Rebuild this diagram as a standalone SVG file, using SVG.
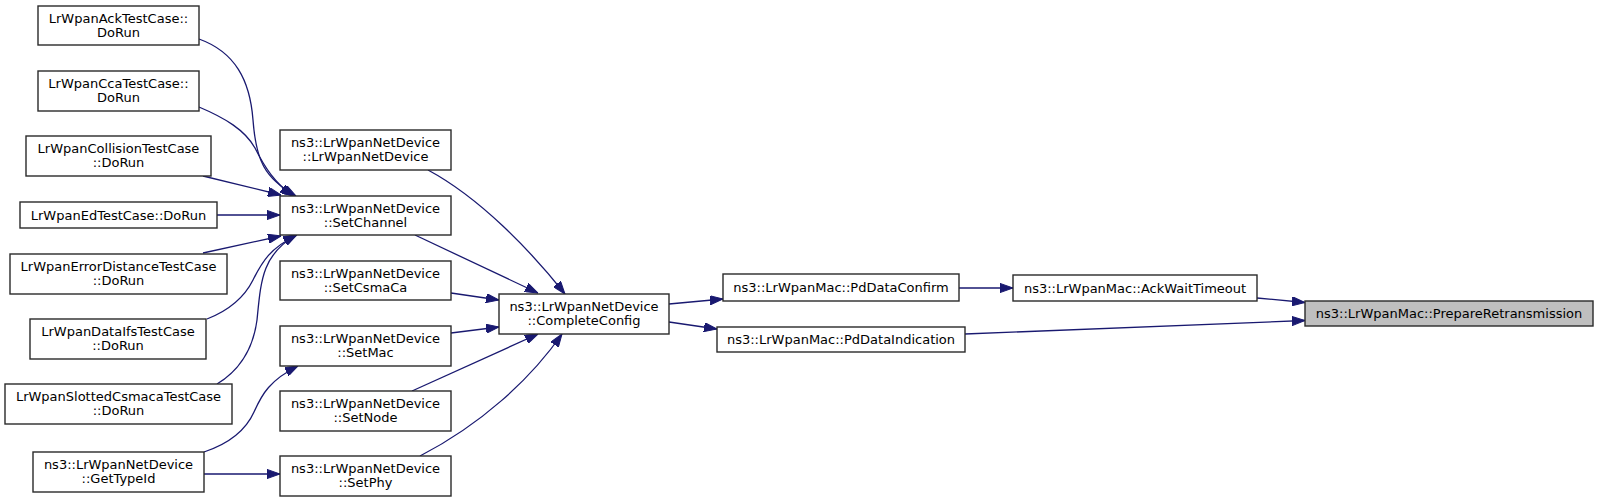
<svg xmlns="http://www.w3.org/2000/svg" width="1599" height="503" viewBox="0 0 1599 503">
<style>
.n rect{fill:#ffffff;stroke:#2a2a2a;stroke-width:1.4}
.n.h rect{fill:#bfbfbf}
.n text{font-family:"DejaVu Sans",Verdana,sans-serif;font-size:13px;fill:#000;text-anchor:middle}
.e path{fill:none;stroke:#191970;stroke-width:1.3;marker-end:url(#ah)}
</style>
<defs>
<marker id="ah" markerUnits="userSpaceOnUse" viewBox="0 0 13 9.2" refX="13" refY="4.6" markerWidth="13" markerHeight="9.2" orient="auto">
<path d="M0,0 L13,4.6 L0,9.2 z" fill="#191970" stroke="#191970" stroke-width="1"/>
</marker>
</defs>
<rect width="1599" height="503" fill="#ffffff"/>
<g id="edges" class="e">
<path d="M199,39 C235,52 250,80 253,120 C256,160 264,178 296,196"/>
<path d="M199,107 C225,118 245,130 255,148 C265,168 275,183 293,196"/>
<path d="M203,176 L281,195"/>
<path d="M217,215 L280,215"/>
<path d="M203,253 L281,236"/>
<path d="M207,319 C230,310 245,296 253,280 C262,262 270,248 297,235"/>
<path d="M217,384 C240,370 253,350 257,320 C261,280 262,255 296,235"/>
<path d="M204,452 C225,445 245,432 254,412 C262,394 270,380 298,366"/>
<path d="M204,474 L280,474"/>
<path d="M428,170 C480,198 530,250 565,294"/>
<path d="M415,235 L538,293"/>
<path d="M451,293 L499,300"/>
<path d="M451,333 L499,327"/>
<path d="M412,391 L538,334"/>
<path d="M420,456 C480,425 530,380 562,334"/>
<path d="M669,304 L723,299"/>
<path d="M669,322 L717,329"/>
<path d="M959,288 L1013,288"/>
<path d="M1257,298 L1305,302.5"/>
<path d="M965,334 L1305,320.5"/>
</g>
<g id="n_ack" class="n"><rect x="38" y="6" width="161" height="39"/><text x="118.5" y="22.5">LrWpanAckTestCase::</text><text x="118.5" y="37">DoRun</text></g>
<g id="n_cca" class="n"><rect x="38" y="71" width="161" height="40"/><text x="118.5" y="87.5">LrWpanCcaTestCase::</text><text x="118.5" y="102">DoRun</text></g>
<g id="n_coll" class="n"><rect x="26" y="136" width="185" height="40"/><text x="118.5" y="152.5">LrWpanCollisionTestCase</text><text x="118.5" y="167">::DoRun</text></g>
<g id="n_ed" class="n"><rect x="20" y="202" width="197" height="26"/><text x="118.5" y="219.5">LrWpanEdTestCase::DoRun</text></g>
<g id="n_err" class="n"><rect x="10" y="254" width="217" height="40"/><text x="118.5" y="270.5">LrWpanErrorDistanceTestCase</text><text x="118.5" y="285">::DoRun</text></g>
<g id="n_ifs" class="n"><rect x="30" y="319" width="176" height="40"/><text x="118" y="335.5">LrWpanDataIfsTestCase</text><text x="118" y="350">::DoRun</text></g>
<g id="n_slot" class="n"><rect x="5" y="384" width="227" height="40"/><text x="118.5" y="400.5">LrWpanSlottedCsmacaTestCase</text><text x="118.5" y="415">::DoRun</text></g>
<g id="n_gettype" class="n"><rect x="33" y="452" width="171" height="40"/><text x="118.5" y="468.5">ns3::LrWpanNetDevice</text><text x="118.5" y="483">::GetTypeId</text></g>
<g id="n_ctor" class="n"><rect x="280" y="130" width="171" height="40"/><text x="365.5" y="146.5">ns3::LrWpanNetDevice</text><text x="365.5" y="161">::LrWpanNetDevice</text></g>
<g id="n_setchannel" class="n"><rect x="280" y="196" width="171" height="39"/><text x="365.5" y="212.5">ns3::LrWpanNetDevice</text><text x="365.5" y="227">::SetChannel</text></g>
<g id="n_setcsma" class="n"><rect x="280" y="261" width="171" height="39"/><text x="365.5" y="277.5">ns3::LrWpanNetDevice</text><text x="365.5" y="292">::SetCsmaCa</text></g>
<g id="n_setmac" class="n"><rect x="280" y="326" width="171" height="40"/><text x="365.5" y="342.5">ns3::LrWpanNetDevice</text><text x="365.5" y="357">::SetMac</text></g>
<g id="n_setnode" class="n"><rect x="280" y="391" width="171" height="40"/><text x="365.5" y="407.5">ns3::LrWpanNetDevice</text><text x="365.5" y="422">::SetNode</text></g>
<g id="n_setphy" class="n"><rect x="280" y="456" width="171" height="40"/><text x="365.5" y="472.5">ns3::LrWpanNetDevice</text><text x="365.5" y="487">::SetPhy</text></g>
<g id="n_complete" class="n"><rect x="499" y="294" width="170" height="40"/><text x="584" y="310.5">ns3::LrWpanNetDevice</text><text x="584" y="325">::CompleteConfig</text></g>
<g id="n_pdconfirm" class="n"><rect x="723" y="274" width="236" height="27"/><text x="841" y="292">ns3::LrWpanMac::PdDataConfirm</text></g>
<g id="n_pdind" class="n"><rect x="717" y="327" width="248" height="25"/><text x="841" y="344">ns3::LrWpanMac::PdDataIndication</text></g>
<g id="n_ackwait" class="n"><rect x="1013" y="275" width="244" height="26"/><text x="1135" y="292.5">ns3::LrWpanMac::AckWaitTimeout</text></g>
<g id="n_prepare" class="n h"><rect x="1305" y="301" width="288" height="25"/><text x="1449" y="318">ns3::LrWpanMac::PrepareRetransmission</text></g>
</svg>
